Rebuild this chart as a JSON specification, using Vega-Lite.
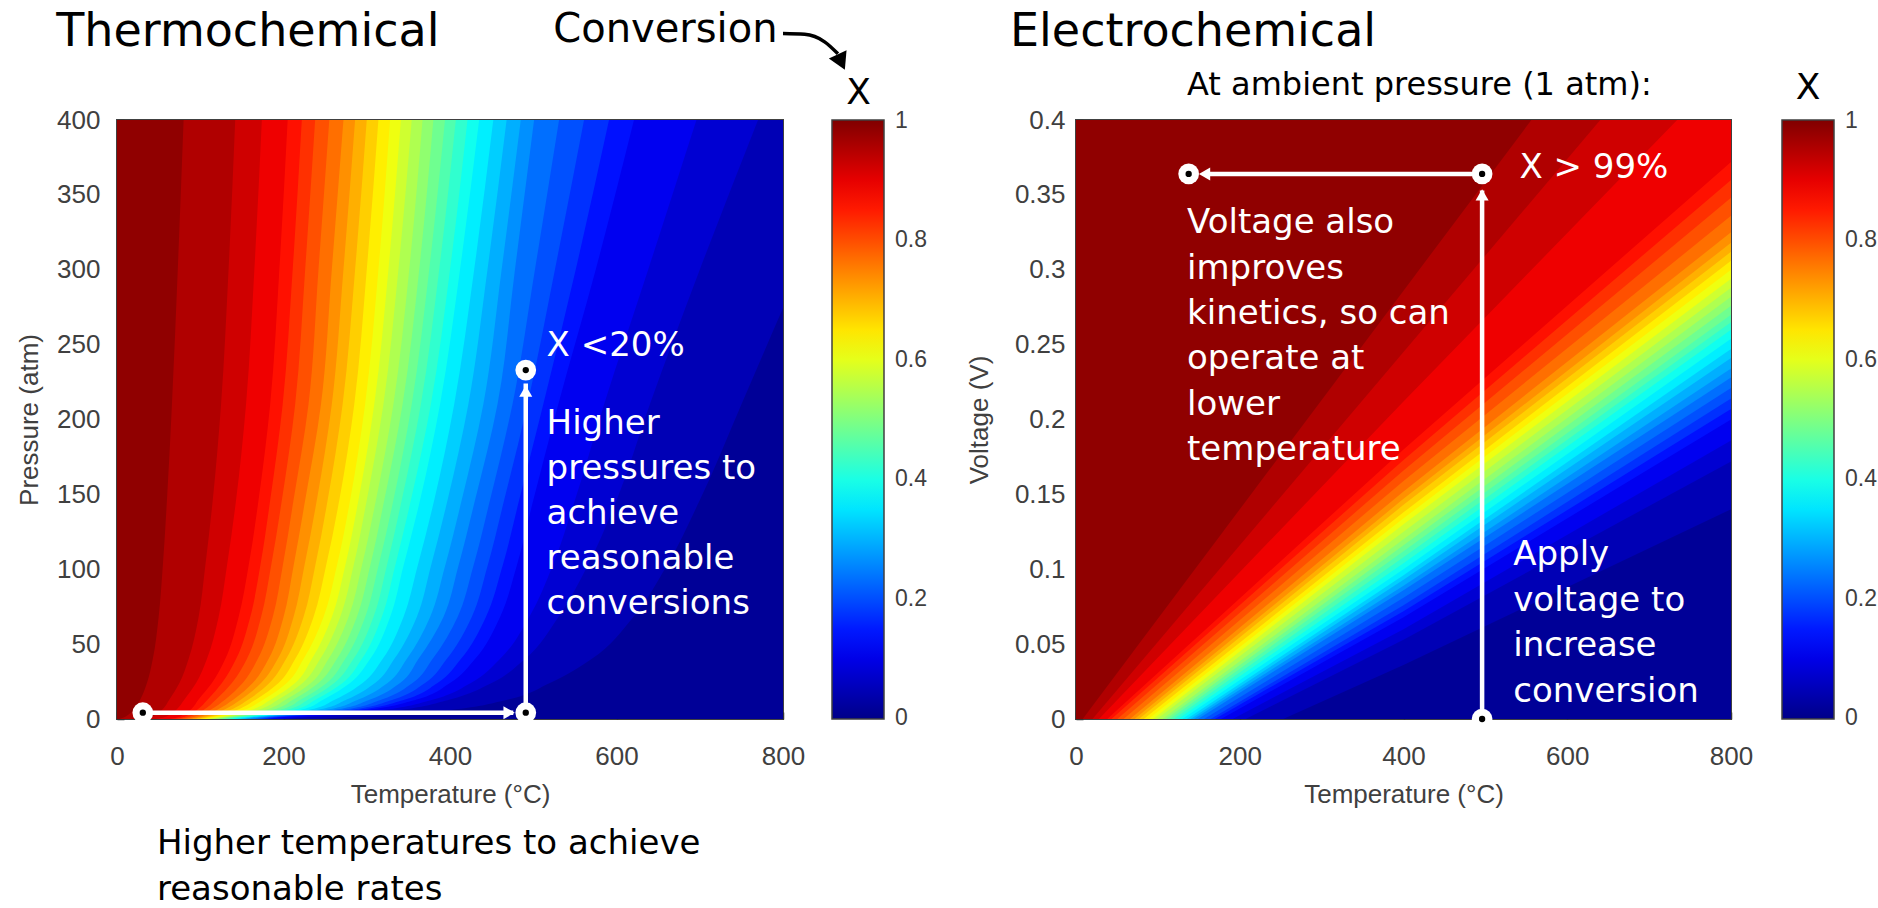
{
"$schema":"https://vega.github.io/schema/vega-lite/v6.json",
"background":"white",
"padding":{"left":15,"top":7,"right":2,"bottom":4},
"config":{
 "view":{"stroke":null},
 "axis":{"labelFont":"Liberation Sans","labelFontSize":26,"labelColor":"#404040","titleFont":"Liberation Sans","titleFontSize":26,"titleFontWeight":"normal","titleColor":"#404040","grid":false,"ticks":true,"tickSize":-7,"tickColor":"#333333","tickWidth":1.5,"domain":false,"labelFlush":false,"labelOverlap":false,"zindex":1},
 "legend":{"labelFont":"Liberation Sans","labelFontSize":23,"labelColor":"#404040"}
},
"datasets":{
"lb":[
{"b":0.984,"p":0,"t":-20},{"b":0.984,"p":1,"t":-20},{"b":0.984,"p":3,"t":-20},{"b":0.984,"p":6,"t":-20},{"b":0.984,"p":13,"t":-20},{"b":0.984,"p":24,"t":-20},{"b":0.984,"p":40,"t":-20},{"b":0.984,"p":68,"t":-20},{"b":0.984,"p":102,"t":-20},{"b":0.984,"p":146,"t":-20},{"b":0.984,"p":210,"t":-20},{"b":0.984,"p":300,"t":-20},{"b":0.984,"p":400,"t":-20},
{"b":0.953,"p":0,"t":3},{"b":0.953,"p":1,"t":8},{"b":0.953,"p":3,"t":14},{"b":0.953,"p":6,"t":20},{"b":0.953,"p":13,"t":28},{"b":0.953,"p":24,"t":36},{"b":0.953,"p":40,"t":43},{"b":0.953,"p":68,"t":50},{"b":0.953,"p":102,"t":55},{"b":0.953,"p":146,"t":60},{"b":0.953,"p":210,"t":66},{"b":0.953,"p":300,"t":73},{"b":0.953,"p":400,"t":80},
{"b":0.922,"p":0,"t":32},{"b":0.922,"p":1,"t":40},{"b":0.922,"p":3,"t":47},{"b":0.922,"p":6,"t":54},{"b":0.922,"p":13,"t":63},{"b":0.922,"p":24,"t":75},{"b":0.922,"p":40,"t":86},{"b":0.922,"p":68,"t":98},{"b":0.922,"p":102,"t":106},{"b":0.922,"p":146,"t":115},{"b":0.922,"p":210,"t":125},{"b":0.922,"p":300,"t":134},{"b":0.922,"p":400,"t":142},
{"b":0.891,"p":0,"t":47},{"b":0.891,"p":1,"t":56},{"b":0.891,"p":3,"t":64},{"b":0.891,"p":6,"t":71},{"b":0.891,"p":13,"t":81},{"b":0.891,"p":24,"t":95},{"b":0.891,"p":40,"t":108},{"b":0.891,"p":68,"t":122},{"b":0.891,"p":102,"t":132},{"b":0.891,"p":146,"t":143},{"b":0.891,"p":210,"t":155},{"b":0.891,"p":300,"t":165},{"b":0.891,"p":400,"t":174},
{"b":0.859,"p":0,"t":62},{"b":0.859,"p":1,"t":72},{"b":0.859,"p":3,"t":80},{"b":0.859,"p":6,"t":88},{"b":0.859,"p":13,"t":98},{"b":0.859,"p":24,"t":114},{"b":0.859,"p":40,"t":130},{"b":0.859,"p":68,"t":146},{"b":0.859,"p":102,"t":158},{"b":0.859,"p":146,"t":170},{"b":0.859,"p":210,"t":184},{"b":0.859,"p":300,"t":195},{"b":0.859,"p":400,"t":205},
{"b":0.828,"p":0,"t":68},{"b":0.828,"p":1,"t":78},{"b":0.828,"p":3,"t":87},{"b":0.828,"p":6,"t":96},{"b":0.828,"p":13,"t":109},{"b":0.828,"p":24,"t":126},{"b":0.828,"p":40,"t":143},{"b":0.828,"p":68,"t":160},{"b":0.828,"p":102,"t":172},{"b":0.828,"p":146,"t":184},{"b":0.828,"p":210,"t":199},{"b":0.828,"p":300,"t":211},{"b":0.828,"p":400,"t":222},
{"b":0.797,"p":0,"t":73},{"b":0.797,"p":1,"t":83},{"b":0.797,"p":3,"t":94},{"b":0.797,"p":6,"t":104},{"b":0.797,"p":13,"t":119},{"b":0.797,"p":24,"t":138},{"b":0.797,"p":40,"t":156},{"b":0.797,"p":68,"t":173},{"b":0.797,"p":102,"t":185},{"b":0.797,"p":146,"t":198},{"b":0.797,"p":210,"t":214},{"b":0.797,"p":300,"t":226},{"b":0.797,"p":400,"t":238},
{"b":0.766,"p":0,"t":79},{"b":0.766,"p":1,"t":89},{"b":0.766,"p":3,"t":101},{"b":0.766,"p":6,"t":112},{"b":0.766,"p":13,"t":130},{"b":0.766,"p":24,"t":151},{"b":0.766,"p":40,"t":169},{"b":0.766,"p":68,"t":187},{"b":0.766,"p":102,"t":199},{"b":0.766,"p":146,"t":212},{"b":0.766,"p":210,"t":230},{"b":0.766,"p":300,"t":242},{"b":0.766,"p":400,"t":255},
{"b":0.734,"p":0,"t":85},{"b":0.734,"p":1,"t":95},{"b":0.734,"p":3,"t":108},{"b":0.734,"p":6,"t":120},{"b":0.734,"p":13,"t":140},{"b":0.734,"p":24,"t":163},{"b":0.734,"p":40,"t":182},{"b":0.734,"p":68,"t":200},{"b":0.734,"p":102,"t":212},{"b":0.734,"p":146,"t":226},{"b":0.734,"p":210,"t":245},{"b":0.734,"p":300,"t":258},{"b":0.734,"p":400,"t":272},
{"b":0.703,"p":0,"t":90},{"b":0.703,"p":1,"t":100},{"b":0.703,"p":3,"t":115},{"b":0.703,"p":6,"t":128},{"b":0.703,"p":13,"t":149},{"b":0.703,"p":24,"t":173},{"b":0.703,"p":40,"t":193},{"b":0.703,"p":68,"t":212},{"b":0.703,"p":102,"t":225},{"b":0.703,"p":146,"t":240},{"b":0.703,"p":210,"t":258},{"b":0.703,"p":300,"t":272},{"b":0.703,"p":400,"t":286},
{"b":0.672,"p":0,"t":95},{"b":0.672,"p":1,"t":105},{"b":0.672,"p":3,"t":121},{"b":0.672,"p":6,"t":136},{"b":0.672,"p":13,"t":158},{"b":0.672,"p":24,"t":183},{"b":0.672,"p":40,"t":203},{"b":0.672,"p":68,"t":224},{"b":0.672,"p":102,"t":238},{"b":0.672,"p":146,"t":253},{"b":0.672,"p":210,"t":271},{"b":0.672,"p":300,"t":286},{"b":0.672,"p":400,"t":300},
{"b":0.641,"p":0,"t":100},{"b":0.641,"p":1,"t":110},{"b":0.641,"p":3,"t":128},{"b":0.641,"p":6,"t":144},{"b":0.641,"p":13,"t":167},{"b":0.641,"p":24,"t":194},{"b":0.641,"p":40,"t":214},{"b":0.641,"p":68,"t":236},{"b":0.641,"p":102,"t":251},{"b":0.641,"p":146,"t":267},{"b":0.641,"p":210,"t":285},{"b":0.641,"p":300,"t":300},{"b":0.641,"p":400,"t":314},
{"b":0.609,"p":0,"t":105},{"b":0.609,"p":1,"t":115},{"b":0.609,"p":3,"t":135},{"b":0.609,"p":6,"t":152},{"b":0.609,"p":13,"t":176},{"b":0.609,"p":24,"t":204},{"b":0.609,"p":40,"t":224},{"b":0.609,"p":68,"t":248},{"b":0.609,"p":102,"t":264},{"b":0.609,"p":146,"t":280},{"b":0.609,"p":210,"t":298},{"b":0.609,"p":300,"t":314},{"b":0.609,"p":400,"t":328},
{"b":0.578,"p":0,"t":109},{"b":0.578,"p":1,"t":120},{"b":0.578,"p":3,"t":141},{"b":0.578,"p":6,"t":161},{"b":0.578,"p":13,"t":185},{"b":0.578,"p":24,"t":214},{"b":0.578,"p":40,"t":234},{"b":0.578,"p":68,"t":258},{"b":0.578,"p":102,"t":274},{"b":0.578,"p":146,"t":290},{"b":0.578,"p":210,"t":309},{"b":0.578,"p":300,"t":326},{"b":0.578,"p":400,"t":341},
{"b":0.547,"p":0,"t":113},{"b":0.547,"p":1,"t":124},{"b":0.547,"p":3,"t":147},{"b":0.547,"p":6,"t":169},{"b":0.547,"p":13,"t":194},{"b":0.547,"p":24,"t":223},{"b":0.547,"p":40,"t":244},{"b":0.547,"p":68,"t":268},{"b":0.547,"p":102,"t":284},{"b":0.547,"p":146,"t":300},{"b":0.547,"p":210,"t":320},{"b":0.547,"p":300,"t":338},{"b":0.547,"p":400,"t":354},
{"b":0.516,"p":0,"t":118},{"b":0.516,"p":1,"t":129},{"b":0.516,"p":3,"t":154},{"b":0.516,"p":6,"t":178},{"b":0.516,"p":13,"t":203},{"b":0.516,"p":24,"t":233},{"b":0.516,"p":40,"t":254},{"b":0.516,"p":68,"t":278},{"b":0.516,"p":102,"t":294},{"b":0.516,"p":146,"t":311},{"b":0.516,"p":210,"t":332},{"b":0.516,"p":300,"t":351},{"b":0.516,"p":400,"t":367},
{"b":0.484,"p":0,"t":122},{"b":0.484,"p":1,"t":133},{"b":0.484,"p":3,"t":160},{"b":0.484,"p":6,"t":186},{"b":0.484,"p":13,"t":212},{"b":0.484,"p":24,"t":242},{"b":0.484,"p":40,"t":264},{"b":0.484,"p":68,"t":288},{"b":0.484,"p":102,"t":304},{"b":0.484,"p":146,"t":321},{"b":0.484,"p":210,"t":343},{"b":0.484,"p":300,"t":363},{"b":0.484,"p":400,"t":380},
{"b":0.453,"p":0,"t":127},{"b":0.453,"p":1,"t":138},{"b":0.453,"p":3,"t":167},{"b":0.453,"p":6,"t":195},{"b":0.453,"p":13,"t":221},{"b":0.453,"p":24,"t":252},{"b":0.453,"p":40,"t":274},{"b":0.453,"p":68,"t":298},{"b":0.453,"p":102,"t":314},{"b":0.453,"p":146,"t":332},{"b":0.453,"p":210,"t":354},{"b":0.453,"p":300,"t":375},{"b":0.453,"p":400,"t":394},
{"b":0.422,"p":0,"t":131},{"b":0.422,"p":1,"t":142},{"b":0.422,"p":3,"t":174},{"b":0.422,"p":6,"t":203},{"b":0.422,"p":13,"t":230},{"b":0.422,"p":24,"t":261},{"b":0.422,"p":40,"t":284},{"b":0.422,"p":68,"t":308},{"b":0.422,"p":102,"t":324},{"b":0.422,"p":146,"t":342},{"b":0.422,"p":210,"t":365},{"b":0.422,"p":300,"t":387},{"b":0.422,"p":400,"t":407},
{"b":0.391,"p":0,"t":136},{"b":0.391,"p":1,"t":147},{"b":0.391,"p":3,"t":181},{"b":0.391,"p":6,"t":212},{"b":0.391,"p":13,"t":239},{"b":0.391,"p":24,"t":271},{"b":0.391,"p":40,"t":294},{"b":0.391,"p":68,"t":318},{"b":0.391,"p":102,"t":334},{"b":0.391,"p":146,"t":353},{"b":0.391,"p":210,"t":377},{"b":0.391,"p":300,"t":400},{"b":0.391,"p":400,"t":421},
{"b":0.359,"p":0,"t":140},{"b":0.359,"p":1,"t":151},{"b":0.359,"p":3,"t":188},{"b":0.359,"p":6,"t":220},{"b":0.359,"p":13,"t":248},{"b":0.359,"p":24,"t":280},{"b":0.359,"p":40,"t":304},{"b":0.359,"p":68,"t":328},{"b":0.359,"p":102,"t":344},{"b":0.359,"p":146,"t":364},{"b":0.359,"p":210,"t":388},{"b":0.359,"p":300,"t":412},{"b":0.359,"p":400,"t":435},
{"b":0.328,"p":0,"t":145},{"b":0.328,"p":1,"t":157},{"b":0.328,"p":3,"t":194},{"b":0.328,"p":6,"t":230},{"b":0.328,"p":13,"t":262},{"b":0.328,"p":24,"t":295},{"b":0.328,"p":40,"t":319},{"b":0.328,"p":68,"t":344},{"b":0.328,"p":102,"t":361},{"b":0.328,"p":146,"t":381},{"b":0.328,"p":210,"t":405},{"b":0.328,"p":300,"t":429},{"b":0.328,"p":400,"t":452},
{"b":0.297,"p":0,"t":150},{"b":0.297,"p":1,"t":162},{"b":0.297,"p":3,"t":200},{"b":0.297,"p":6,"t":240},{"b":0.297,"p":13,"t":276},{"b":0.297,"p":24,"t":310},{"b":0.297,"p":40,"t":333},{"b":0.297,"p":68,"t":360},{"b":0.297,"p":102,"t":377},{"b":0.297,"p":146,"t":397},{"b":0.297,"p":210,"t":422},{"b":0.297,"p":300,"t":445},{"b":0.297,"p":400,"t":468},
{"b":0.266,"p":0,"t":155},{"b":0.266,"p":1,"t":168},{"b":0.266,"p":3,"t":206},{"b":0.266,"p":6,"t":250},{"b":0.266,"p":13,"t":290},{"b":0.266,"p":24,"t":325},{"b":0.266,"p":40,"t":348},{"b":0.266,"p":68,"t":376},{"b":0.266,"p":102,"t":394},{"b":0.266,"p":146,"t":414},{"b":0.266,"p":210,"t":440},{"b":0.266,"p":300,"t":462},{"b":0.266,"p":400,"t":485},
{"b":0.234,"p":0,"t":160},{"b":0.234,"p":1,"t":173},{"b":0.234,"p":3,"t":212},{"b":0.234,"p":6,"t":260},{"b":0.234,"p":13,"t":304},{"b":0.234,"p":24,"t":340},{"b":0.234,"p":40,"t":362},{"b":0.234,"p":68,"t":392},{"b":0.234,"p":102,"t":410},{"b":0.234,"p":146,"t":430},{"b":0.234,"p":210,"t":457},{"b":0.234,"p":300,"t":478},{"b":0.234,"p":400,"t":501},
{"b":0.203,"p":0,"t":166},{"b":0.203,"p":1,"t":179},{"b":0.203,"p":3,"t":221},{"b":0.203,"p":6,"t":270},{"b":0.203,"p":13,"t":318},{"b":0.203,"p":24,"t":355},{"b":0.203,"p":40,"t":379},{"b":0.203,"p":68,"t":409},{"b":0.203,"p":102,"t":428},{"b":0.203,"p":146,"t":448},{"b":0.203,"p":210,"t":475},{"b":0.203,"p":300,"t":502},{"b":0.203,"p":400,"t":531},
{"b":0.172,"p":0,"t":171},{"b":0.172,"p":1,"t":184},{"b":0.172,"p":3,"t":230},{"b":0.172,"p":6,"t":280},{"b":0.172,"p":13,"t":332},{"b":0.172,"p":24,"t":370},{"b":0.172,"p":40,"t":396},{"b":0.172,"p":68,"t":426},{"b":0.172,"p":102,"t":445},{"b":0.172,"p":146,"t":465},{"b":0.172,"p":210,"t":493},{"b":0.172,"p":300,"t":526},{"b":0.172,"p":400,"t":561},
{"b":0.141,"p":0,"t":177},{"b":0.141,"p":1,"t":190},{"b":0.141,"p":3,"t":239},{"b":0.141,"p":6,"t":290},{"b":0.141,"p":13,"t":346},{"b":0.141,"p":24,"t":385},{"b":0.141,"p":40,"t":413},{"b":0.141,"p":68,"t":443},{"b":0.141,"p":102,"t":463},{"b":0.141,"p":146,"t":483},{"b":0.141,"p":210,"t":512},{"b":0.141,"p":300,"t":551},{"b":0.141,"p":400,"t":591},
{"b":0.109,"p":0,"t":182},{"b":0.109,"p":1,"t":196},{"b":0.109,"p":3,"t":248},{"b":0.109,"p":6,"t":300},{"b":0.109,"p":13,"t":360},{"b":0.109,"p":24,"t":400},{"b":0.109,"p":40,"t":430},{"b":0.109,"p":68,"t":460},{"b":0.109,"p":102,"t":480},{"b":0.109,"p":146,"t":500},{"b":0.109,"p":210,"t":530},{"b":0.109,"p":300,"t":575},{"b":0.109,"p":400,"t":621},
{"b":0.078,"p":0,"t":194},{"b":0.078,"p":1,"t":211},{"b":0.078,"p":3,"t":269},{"b":0.078,"p":6,"t":320},{"b":0.078,"p":13,"t":380},{"b":0.078,"p":24,"t":425},{"b":0.078,"p":40,"t":460},{"b":0.078,"p":68,"t":495},{"b":0.078,"p":102,"t":523},{"b":0.078,"p":146,"t":550},{"b":0.078,"p":210,"t":585},{"b":0.078,"p":300,"t":638},{"b":0.078,"p":400,"t":696},
{"b":0.047,"p":0,"t":205},{"b":0.047,"p":1,"t":225},{"b":0.047,"p":3,"t":290},{"b":0.047,"p":6,"t":340},{"b":0.047,"p":13,"t":400},{"b":0.047,"p":24,"t":450},{"b":0.047,"p":40,"t":490},{"b":0.047,"p":68,"t":530},{"b":0.047,"p":102,"t":565},{"b":0.047,"p":146,"t":600},{"b":0.047,"p":210,"t":640},{"b":0.047,"p":300,"t":700},{"b":0.047,"p":400,"t":770},
{"b":0.016,"p":0,"t":240},{"b":0.016,"p":1,"t":270},{"b":0.016,"p":3,"t":340},{"b":0.016,"p":6,"t":400},{"b":0.016,"p":13,"t":470},{"b":0.016,"p":24,"t":520},{"b":0.016,"p":40,"t":570},{"b":0.016,"p":68,"t":620},{"b":0.016,"p":102,"t":660},{"b":0.016,"p":146,"t":700},{"b":0.016,"p":210,"t":750},{"b":0.016,"p":300,"t":820},{"b":0.016,"p":400,"t":900}
],
"rb":[
{"b":0.016,"t":0,"v":-1},{"b":0.016,"t":400,"v":-1},{"b":0.016,"t":800,"v":-1},
{"b":0.047,"t":0,"v":-0.062},{"b":0.047,"t":400,"v":0.036},{"b":0.047,"t":800,"v":0.14},
{"b":0.078,"t":0,"v":-0.057},{"b":0.078,"t":400,"v":0.053},{"b":0.078,"t":800,"v":0.172},
{"b":0.109,"t":0,"v":-0.055},{"b":0.109,"t":400,"v":0.06},{"b":0.109,"t":800,"v":0.186},
{"b":0.141,"t":0,"v":-0.054},{"b":0.141,"t":400,"v":0.068},{"b":0.141,"t":800,"v":0.2},
{"b":0.172,"t":0,"v":-0.053},{"b":0.172,"t":400,"v":0.072},{"b":0.172,"t":800,"v":0.207},
{"b":0.203,"t":0,"v":-0.053},{"b":0.203,"t":400,"v":0.076},{"b":0.203,"t":800,"v":0.214},
{"b":0.234,"t":0,"v":-0.052},{"b":0.234,"t":400,"v":0.081},{"b":0.234,"t":800,"v":0.221},
{"b":0.266,"t":0,"v":-0.051},{"b":0.266,"t":400,"v":0.086},{"b":0.266,"t":800,"v":0.228},
{"b":0.297,"t":0,"v":-0.05},{"b":0.297,"t":400,"v":0.089},{"b":0.297,"t":800,"v":0.234},
{"b":0.328,"t":0,"v":-0.05},{"b":0.328,"t":400,"v":0.093},{"b":0.328,"t":800,"v":0.241},
{"b":0.359,"t":0,"v":-0.049},{"b":0.359,"t":400,"v":0.096},{"b":0.359,"t":800,"v":0.247},
{"b":0.391,"t":0,"v":-0.048},{"b":0.391,"t":400,"v":0.1},{"b":0.391,"t":800,"v":0.254},
{"b":0.422,"t":0,"v":-0.047},{"b":0.422,"t":400,"v":0.104},{"b":0.422,"t":800,"v":0.26},
{"b":0.453,"t":0,"v":-0.046},{"b":0.453,"t":400,"v":0.108},{"b":0.453,"t":800,"v":0.265},
{"b":0.484,"t":0,"v":-0.045},{"b":0.484,"t":400,"v":0.112},{"b":0.484,"t":800,"v":0.27},
{"b":0.516,"t":0,"v":-0.044},{"b":0.516,"t":400,"v":0.116},{"b":0.516,"t":800,"v":0.276},
{"b":0.547,"t":0,"v":-0.043},{"b":0.547,"t":400,"v":0.12},{"b":0.547,"t":800,"v":0.282},
{"b":0.578,"t":0,"v":-0.041},{"b":0.578,"t":400,"v":0.125},{"b":0.578,"t":800,"v":0.288},
{"b":0.609,"t":0,"v":-0.04},{"b":0.609,"t":400,"v":0.13},{"b":0.609,"t":800,"v":0.294},
{"b":0.641,"t":0,"v":-0.038},{"b":0.641,"t":400,"v":0.134},{"b":0.641,"t":800,"v":0.3},
{"b":0.672,"t":0,"v":-0.036},{"b":0.672,"t":400,"v":0.138},{"b":0.672,"t":800,"v":0.306},
{"b":0.703,"t":0,"v":-0.034},{"b":0.703,"t":400,"v":0.143},{"b":0.703,"t":800,"v":0.312},
{"b":0.734,"t":0,"v":-0.032},{"b":0.734,"t":400,"v":0.147},{"b":0.734,"t":800,"v":0.318},
{"b":0.766,"t":0,"v":-0.03},{"b":0.766,"t":400,"v":0.152},{"b":0.766,"t":800,"v":0.325},
{"b":0.797,"t":0,"v":-0.027},{"b":0.797,"t":400,"v":0.159},{"b":0.797,"t":800,"v":0.336},
{"b":0.828,"t":0,"v":-0.024},{"b":0.828,"t":400,"v":0.166},{"b":0.828,"t":800,"v":0.348},
{"b":0.859,"t":0,"v":-0.021},{"b":0.859,"t":400,"v":0.173},{"b":0.859,"t":800,"v":0.36},
{"b":0.891,"t":0,"v":-0.019},{"b":0.891,"t":400,"v":0.18},{"b":0.891,"t":800,"v":0.372},
{"b":0.922,"t":0,"v":-0.016},{"b":0.922,"t":400,"v":0.212},{"b":0.922,"t":800,"v":0.437},
{"b":0.953,"t":0,"v":-0.013},{"b":0.953,"t":400,"v":0.245},{"b":0.953,"t":800,"v":0.503},
{"b":0.984,"t":0,"v":-0.006},{"b":0.984,"t":400,"v":0.286},{"b":0.984,"t":800,"v":0.578}
],
"lArrows":[{"t":31,"p":4.2,"t2":476,"p2":4.2},{"t":491,"p":4.2,"t2":491,"p2":224}],
"lHeadR":[{"t":471,"p":4.2}],
"lHeadU":[{"t":491,"p":219}],
"lCircles":[{"t":31,"p":4.2},{"t":491,"p":4.2},{"t":491,"p":233}],
"lCurve":[{"t":800,"p":457.7,"o":1},{"t":826,"p":457.2,"o":2},{"t":850,"p":452.2,"o":3},{"t":866,"p":444.2,"o":4}],
"lHeadD":[{"t":870,"p":438.7}],
"lTitle":[{"t":-73,"p":458.8,"txt":"Thermochemical"}],
"lConv":[{"t":524,"p":460.3,"txt":"Conversion"}],
"lX":[{"t":890.7,"p":417.8,"txt":"X"}],
"lNote":[{"t":516,"p":249,"txt":"X <20%"},{"t":516,"p":197.1,"txt":"Higher\npressures to\nachieve\nreasonable\nconversions"}],
"lBottom":[{"t":48,"p":-83.6,"txt":"Higher temperatures to achieve\nreasonable rates"}],
"rArrows":[{"t":496,"v":0,"t2":496,"v2":0.353},{"t":496,"v":0.364,"t2":162,"v2":0.364}],
"rHeadU":[{"t":496,"v":0.35}],
"rHeadL":[{"t":157,"v":0.364}],
"rCircles":[{"t":137.6,"v":0.364},{"t":496,"v":0.364},{"t":496,"v":0}],
"rTitle":[{"t":-80.6,"v":0.4588,"txt":"Electrochemical"}],
"rSub":[{"t":135.6,"v":0.4234,"txt":"At ambient pressure (1 atm):"}],
"rX":[{"t":894,"v":0.4214,"txt":"X"}],
"rNote1":[{"t":541.6,"v":0.3678,"txt":"X > 99%"},{"t":534,"v":0.1095,"txt":"Apply\nvoltage to\nincrease\nconversion"}],
"rNote2":[{"t":135.6,"v":0.3311,"txt":"Voltage also\nimproves\nkinetics, so can\noperate at\nlower\ntemperature"}]
},
"bounds":"flush",
"spacing":293,
"resolve":{"scale":{"color":"independent"},"legend":{"color":"independent"}},
"hconcat":[
{
 "width":666,"height":599,
 "view":{"stroke":"#404040","strokeWidth":2},
 "encoding":{
  "x":{"field":"t","type":"quantitative","scale":{"domain":[0,800],"nice":false,"zero":false},"axis":{"title":"Temperature (°C)","values":[0,200,400,600,800],"labelPadding":31,"titlePadding":12}},
  "y":{"field":"p","type":"quantitative","scale":{"domain":[0,400],"nice":false,"zero":false},"axis":{"title":"Pressure (atm)","values":[0,50,100,150,200,250,300,350,400],"labelPadding":24,"titlePadding":14}}
 },
 "layer":[
  {"data":{"name":"lb"},"mark":{"type":"area","orient":"horizontal","clip":true,"interpolate":"monotone"},
   "encoding":{
    "x2":{"datum":1000},
    "color":{"field":"b","type":"quantitative","scale":{"type":"linear","domain":[0,0.125,0.375,0.625,0.875,1],"range":["#000088","#0000ff","#00ffff","#ffff00","#ff0000","#800000"],"interpolate":"rgb"},
      "legend":{"type":"gradient","title":null,"orient":"right","offset":49,"gradientLength":599,"gradientThickness":52,"values":[0.001,0.2,0.4,0.6,0.8,0.999],"format":".1~f","labelOffset":11,"gradientStrokeColor":"#404040","gradientStrokeWidth":1.5,"padding":0,"direction":"vertical"}}
   }},
  {"data":{"name":"lArrows"},"mark":{"type":"rule","color":"white","strokeWidth":4.5},"encoding":{"x2":{"field":"t2"},"y2":{"field":"p2"}}},
  {"data":{"name":"lHeadR"},"mark":{"type":"point","shape":"triangle-right","filled":true,"color":"white","opacity":1,"size":170}},
  {"data":{"name":"lHeadU"},"mark":{"type":"point","shape":"triangle-up","filled":true,"color":"white","opacity":1,"size":170}},
  {"data":{"name":"lCircles"},"mark":{"type":"point","shape":"circle","filled":true,"color":"white","opacity":1,"size":430}},
  {"data":{"name":"lCircles"},"mark":{"type":"point","shape":"circle","filled":true,"color":"black","opacity":1,"size":40}},
  {"data":{"name":"lCurve"},"mark":{"type":"line","color":"black","strokeWidth":3.5,"interpolate":"monotone","clip":false},"encoding":{"order":{"field":"o","type":"quantitative"}}},
  {"data":{"name":"lHeadD"},"mark":{"type":"point","shape":"triangle-down","filled":true,"color":"black","opacity":1,"size":380,"angle":-25}},
  {"data":{"name":"lTitle"},"mark":{"type":"text","font":"DejaVu Sans","fontSize":46,"align":"left","baseline":"middle","color":"black"},"encoding":{"text":{"field":"txt"}}},
  {"data":{"name":"lConv"},"mark":{"type":"text","font":"DejaVu Sans","fontSize":40,"align":"left","baseline":"middle","color":"black"},"encoding":{"text":{"field":"txt"}}},
  {"data":{"name":"lX"},"mark":{"type":"text","font":"DejaVu Sans","fontSize":36,"align":"center","baseline":"middle","color":"black"},"encoding":{"text":{"field":"txt"}}},
  {"data":{"name":"lNote"},"mark":{"type":"text","font":"DejaVu Sans","fontSize":34,"align":"left","baseline":"middle","color":"white","lineBreak":"\n","lineHeight":45},"encoding":{"text":{"field":"txt"}}},
  {"data":{"name":"lBottom"},"mark":{"type":"text","font":"DejaVu Sans","fontSize":34,"align":"left","baseline":"middle","color":"black","lineBreak":"\n","lineHeight":46},"encoding":{"text":{"field":"txt"}}}
 ]
},
{
 "width":655,"height":599,
 "view":{"stroke":"#404040","strokeWidth":2},
 "encoding":{
  "x":{"field":"t","type":"quantitative","scale":{"domain":[0,800],"nice":false,"zero":false},"axis":{"title":"Temperature (°C)","values":[0,200,400,600,800],"labelPadding":31,"titlePadding":12}},
  "y":{"field":"v","type":"quantitative","scale":{"domain":[0,0.4],"nice":false,"zero":false},"axis":{"title":"Voltage (V)","values":[0,0.05,0.1,0.15,0.2,0.25,0.3,0.35,0.4],"format":"~g","labelPadding":18,"titlePadding":22}}
 },
 "layer":[
  {"data":{"name":"rb"},"mark":{"type":"area","orient":"vertical","clip":true},
   "encoding":{
    "y2":{"datum":1},
    "color":{"field":"b","type":"quantitative","scale":{"type":"linear","domain":[0,0.125,0.375,0.625,0.875,1],"range":["#000088","#0000ff","#00ffff","#ffff00","#ff0000","#800000"],"interpolate":"rgb"},
      "legend":{"type":"gradient","title":null,"orient":"right","offset":51,"gradientLength":599,"gradientThickness":52,"values":[0.001,0.2,0.4,0.6,0.8,0.999],"format":".1~f","labelOffset":11,"gradientStrokeColor":"#404040","gradientStrokeWidth":1.5,"padding":0,"direction":"vertical"}}
   }},
  {"data":{"name":"rArrows"},"mark":{"type":"rule","color":"white","strokeWidth":4.5},"encoding":{"x2":{"field":"t2"},"y2":{"field":"v2"}}},
  {"data":{"name":"rHeadU"},"mark":{"type":"point","shape":"triangle-up","filled":true,"color":"white","opacity":1,"size":170}},
  {"data":{"name":"rHeadL"},"mark":{"type":"point","shape":"triangle-left","filled":true,"color":"white","opacity":1,"size":170}},
  {"data":{"name":"rCircles"},"mark":{"type":"point","shape":"circle","filled":true,"color":"white","opacity":1,"size":430}},
  {"data":{"name":"rCircles"},"mark":{"type":"point","shape":"circle","filled":true,"color":"black","opacity":1,"size":40}},
  {"data":{"name":"rTitle"},"mark":{"type":"text","font":"DejaVu Sans","fontSize":46,"align":"left","baseline":"middle","color":"black"},"encoding":{"text":{"field":"txt"}}},
  {"data":{"name":"rSub"},"mark":{"type":"text","font":"DejaVu Sans","fontSize":32,"align":"left","baseline":"middle","color":"black"},"encoding":{"text":{"field":"txt"}}},
  {"data":{"name":"rX"},"mark":{"type":"text","font":"DejaVu Sans","fontSize":36,"align":"center","baseline":"middle","color":"black"},"encoding":{"text":{"field":"txt"}}},
  {"data":{"name":"rNote1"},"mark":{"type":"text","font":"DejaVu Sans","fontSize":34,"align":"left","baseline":"middle","color":"white","lineBreak":"\n","lineHeight":45.5},"encoding":{"text":{"field":"txt"}}},
  {"data":{"name":"rNote2"},"mark":{"type":"text","font":"DejaVu Sans","fontSize":34,"align":"left","baseline":"middle","color":"white","lineBreak":"\n","lineHeight":45.4},"encoding":{"text":{"field":"txt"}}}
 ]
}
]
}
